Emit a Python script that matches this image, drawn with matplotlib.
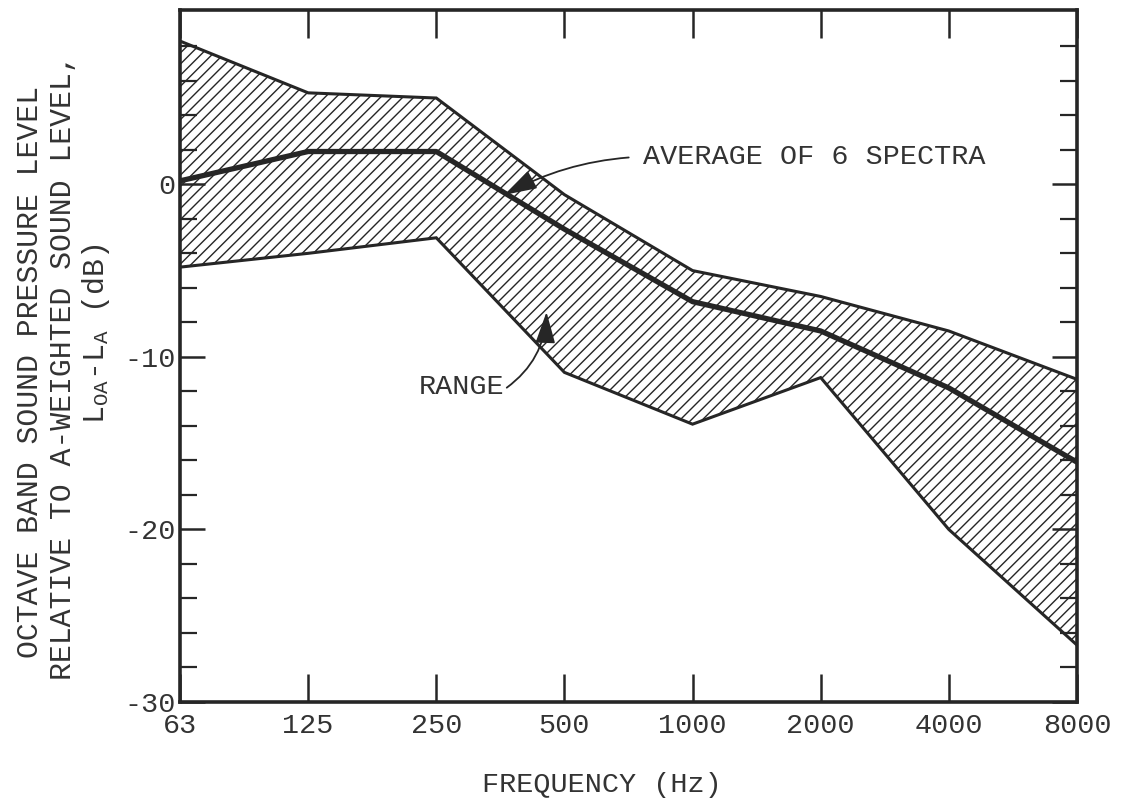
import numpy as np
import matplotlib.pyplot as plt

plt.rcParams['font.family'] = ['Liberation Mono', 'DejaVu Sans Mono']
plt.rcParams['mathtext.fontset'] = 'custom'
plt.rcParams['mathtext.rm'] = 'Liberation Mono'
plt.rcParams['mathtext.it'] = 'Liberation Mono'
plt.rcParams['hatch.linewidth'] = 1.0

# octave band centre frequencies (Hz)
freqs = ['63', '125', '250', '500', '1000', '2000', '4000', '8000']

# L_OA - L_A in dB: top and bottom of the range, and the mean of 6 spectra
upper = [8.3, 5.3, 5.0, -0.6, -5.0, -6.5, -8.5, -11.3]
average = [0.2, 1.9, 1.9, -2.6, -6.8, -8.5, -11.8, -16.1]
lower = [-4.8, -4.0, -3.1, -10.9, -13.9, -11.2, -20.0, -26.7]

ink = '#262626'
txt = '#333333'
fs = 20.5

x = np.arange(len(freqs))

fig = plt.figure(figsize=(11.21, 8.01), dpi=100)
ax = fig.add_axes([0.1606, 0.1236, 0.8001, 0.8639])

ax.fill_between(x, lower, upper, facecolor='white', edgecolor=ink,
                hatch='///', linewidth=0)
ax.plot(x, upper, color=ink, lw=2.2, solid_joinstyle='miter')
ax.plot(x, lower, color=ink, lw=2.2, solid_joinstyle='miter')
ax.plot(x, average, color=ink, lw=3.8, solid_joinstyle='round')

ax.set_xlim(0, 7)
ax.set_ylim(-30, 10.1)

ax.set_xticks(x)
ax.set_xticklabels(freqs)
ax.tick_params(axis='x', direction='in', length=20, width=1.8,
               top=True, bottom=True, labelsize=fs, pad=8, colors=ink,
               labelcolor=txt)

ax.set_yticks([-30, -20, -10, 0])
ax.set_yticklabels(['-30', '-20', '-10', '0'])
ax.set_yticks(np.arange(-28, 10, 2), minor=True)
ax.tick_params(axis='y', which='major', direction='in', length=18, width=1.8,
               left=True, right=True, labelsize=fs, pad=3, colors=ink,
               labelcolor=txt)
ax.tick_params(axis='y', which='minor', direction='in', length=12, width=1.6,
               left=True, right=True, colors=ink)

for sp in ax.spines.values():
    sp.set_linewidth(2.6)
    sp.set_color(ink)

head = '-|>,head_length=0.95,head_width=0.3'
ax.annotate('AVERAGE OF 6 SPECTRA', xy=(2.54, -0.6), xytext=(3.61, 1.6),
            fontsize=fs, color=txt, ha='left', va='center',
            arrowprops=dict(arrowstyle=head, color=ink, lw=1.3,
                            relpos=(0, 0.5), shrinkA=8, shrinkB=0,
                            connectionstyle='arc3,rad=0.12'))
ax.annotate('RANGE', xy=(2.86, -7.4), xytext=(1.86, -11.75),
            fontsize=fs, color=txt, ha='left', va='center',
            arrowprops=dict(arrowstyle=head, color=ink, lw=1.3,
                            relpos=(1, 0.4), shrinkA=0, shrinkB=0,
                            connectionstyle='arc3,rad=0.25'))

fig.text(0.537, 0.02, 'FREQUENCY (Hz)', fontsize=fs, color=txt,
         ha='center', va='center')
fig.text(0.027, 0.536, 'OCTAVE BAND SOUND PRESSURE LEVEL', fontsize=21.5,
         color=txt, rotation=90, ha='center', va='center')
fig.text(0.056, 0.542, 'RELATIVE TO A-WEIGHTED SOUND LEVEL,', fontsize=21.5,
         color=txt, rotation=90, ha='center', va='center')
fig.text(0.086, 0.583, r'L$_{\mathrm{OA}}$-L$_{\mathrm{A}}$ (dB)', fontsize=21.5,
         color=txt, rotation=90, ha='center', va='center')

fig.savefig('out.png', dpi=100, facecolor='white')
